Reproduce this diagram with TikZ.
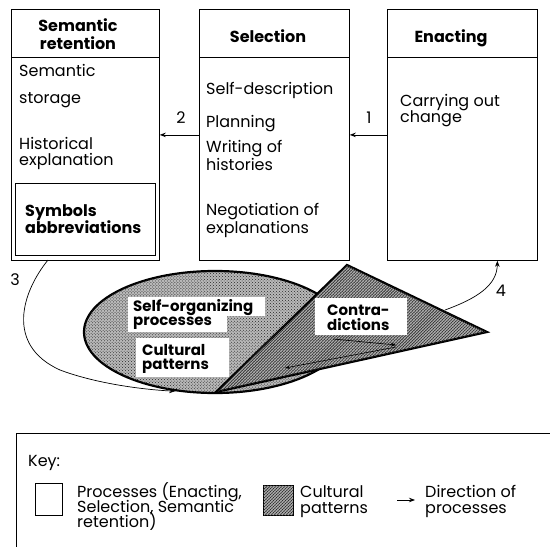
\documentclass[tikz,border=0pt]{standalone}
\usepackage{fontspec}
\setmainfont{Poppins}
\usetikzlibrary{shapes.geometric,patterns,arrows.meta}

\tikzset{
  procbox/.style={draw, line width=0.8bp, inner sep=0, anchor=north west},
  body/.style={anchor=base west, inner sep=0, font=\fontsize{16bp}{18bp}\selectfont},
  boldhead/.style={anchor=base, inner sep=0, font=\fontsize{16bp}{18bp}\selectfont\bfseries},
  boldbody/.style={anchor=base west, inner sep=0, font=\fontsize{16bp}{18bp}\selectfont\bfseries},
  tag/.style={inner sep=0, font=\fontsize{16bp}{18bp}\selectfont},
  whitelabel/.style={fill=white, inner sep=0, anchor=north west},
  labeltext/.style={anchor=base west, inner sep=0, font=\fontsize{15bp}{14bp}\selectfont\bfseries},
  flow/.style={-{Stealth[length=6bp,width=4.5bp]}, line width=0.8bp},
  innerflow/.style={-{Stealth[length=5bp,width=3.5bp]}, line width=0.6bp},
  lightshade/.style={fill=gray!55, postaction={pattern=crosshatch dots, pattern color=black!85}},
  darkshade/.style={fill=gray!65, postaction={pattern=crosshatch dots, pattern color=black}, postaction={pattern=north east lines, pattern color=black!80}},
}

\begin{document}
\begin{tikzpicture}[x=1bp, y=-1bp]
\clip (0,0) rectangle (550,547);
\fill[white] (0,0) rectangle (550,547);

% --- the three process boxes ---
\node[procbox, minimum width=148bp, minimum height=251bp] (sem) at (11,9) {};
\node[procbox, minimum width=150bp, minimum height=251bp] (sel) at (199,9) {};
\node[procbox, minimum width=150bp, minimum height=251bp] (ena) at (387,9) {};
\draw[line width=0.8bp] ([yshift=-48bp]sem.north west) -- ([yshift=-48bp]sem.north east);
\draw[line width=0.8bp] ([yshift=-48bp]sel.north west) -- ([yshift=-48bp]sel.north east);
\draw[line width=0.8bp] ([yshift=-48bp]ena.north west) -- ([yshift=-48bp]ena.north east);
\node[procbox, minimum width=140bp, minimum height=72bp] (sym) at (15,183) {};

% headings
\node[boldhead] (semh1) at (78,32) {Semantic};
\node[boldhead] (semh2) at (78,50) {retention};
\node[boldhead] (selh) at (268,43) {Selection};
\node[boldhead] (enah) at (451,43) {Enacting};

% Semantic retention contents
\node[body] (s1) at (19,77) {Semantic};
\node[body] (s2) at (19,104) {storage};
\node[body] (s3) at (19,150) {Historical};
\node[body] (s4) at (19,166) {explanation};
\node[boldbody] (s5) at (25,217) {Symbols};
\node[boldbody] (s6) at (25,233) {abbreviations};

% Selection contents
\node[body] (l1) at (206,95) {Self-description};
\node[body] (l2) at (206,128) {Planning};
\node[body] (l3) at (206,153) {Writing of};
\node[body] (l4) at (206,171) {histories};
\node[body] (l5) at (206,216) {Negotiation of};
\node[body] (l6) at (206,233) {explanations};

% Enacting contents
\node[body] (e1) at (400,107) {Carrying out};
\node[body] (e2) at (400,123) {change};

% flows between the boxes
\draw[flow] (ena.west) -- (sel.east);
\draw[flow] (sel.west) -- (sem.east);
\node[tag] (n1) at (369,118) {1};
\node[tag] (n2) at (181,118) {2};

% --- cultural patterns and contradictions ---
\node[ellipse, draw, line width=2.2bp, minimum width=262bp, minimum height=122bp, inner sep=0, lightshade] (cult) at (215,332) {};
\coordinate (ta) at (347,265);
\coordinate (tb) at (487,332);
\coordinate (tc) at (216,392);
\draw[line width=2.2bp, line join=miter, darkshade] (ta) -- (tb) -- (tc) -- cycle;

\node[whitelabel, minimum width=137bp, minimum height=19bp] (so1box) at (128,297) {};
\node[whitelabel, minimum width=99bp, minimum height=17bp] (so2box) at (128,315) {};
\node[labeltext] (so1) at (133,311) {Self-organizing};
\node[labeltext] (so2) at (133,325) {processes};
\node[whitelabel, minimum width=93bp, minimum height=39bp] (cpbox) at (136,338) {};
\node[labeltext] (cp1) at (142,355) {Cultural};
\node[labeltext] (cp2) at (142,369) {patterns};
\node[whitelabel, minimum width=92bp, minimum height=37bp] (cobox) at (315,298) {};
\node[labeltext] (co1) at (327,315) {Contra-};
\node[labeltext] (co2) at (327,330) {dictions};

% circulation inside the contradictions
\coordinate (i1) at (333,339);
\coordinate (i2) at (396,345);
\coordinate (i3) at (285,368);
\draw[innerflow] (i1) -- (i2);
\draw[innerflow] ([yshift=-2bp]i2) -- (i3);

% flows 3 and 4
\coordinate (c3) at (48,260);
\draw[flow, line width=0.7bp] (c3) .. controls (22,292) and (5,345) .. (60,370)
      .. controls (100,385) and (150,390) .. (cult.236);
\node[tag] (n3) at (15,280) {3};
\coordinate (c4) at (445,310);
\draw[flow, line width=0.7bp] (c4) .. controls (478,298) and (497,285) .. ([xshift=35bp]ena.south);
\node[tag] (n4) at (501,291) {4};

% --- key ---
\node[procbox, minimum width=560bp, minimum height=140bp] (key) at (16,433) {};
\node[body] (keyt) at (28,466) {Key:};
\node[procbox, minimum width=27bp, minimum height=32bp] (kproc) at (35,483) {};
\node[body] (k1) at (77,497) {Processes (Enacting,};
\node[body] (k2) at (77,512) {Selection, Semantic};
\node[body] (k3) at (77,527) {retention)};
\node[procbox, minimum width=30bp, minimum height=30bp, darkshade] (kcult) at (263,485) {};
\node[body] (k4) at (300,497) {Cultural};
\node[body] (k5) at (300,513) {patterns};
\coordinate (ka) at (397,500);
\coordinate (kb) at (415,500);
\draw[flow] (ka) -- (kb);
\node[body] (k6) at (425,497) {Direction of};
\node[body] (k7) at (425,513) {processes};
\end{tikzpicture}
\end{document}
